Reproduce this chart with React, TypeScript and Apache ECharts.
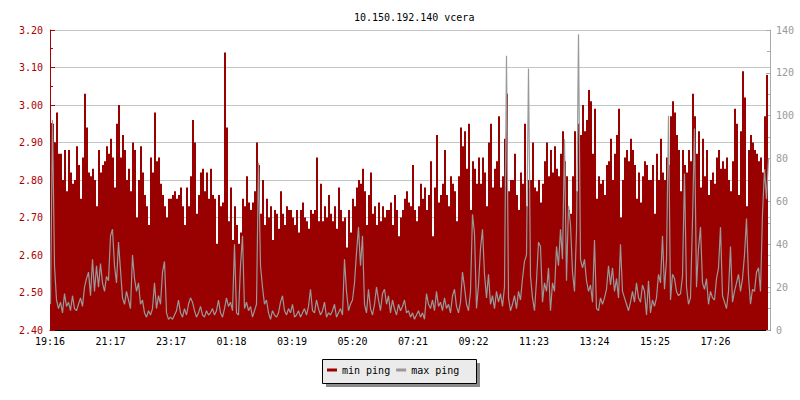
import React, { useEffect, useRef } from "react";
import * as echarts from "echarts";

const titleText = "10.150.192.140 vcera";
const tickLabels = ["19:16", "21:17", "23:17", "01:18", "03:19", "05:20", "07:21", "09:22", "11:23", "13:24", "15:25", "17:26"];
const tickStepMinutes = 121;
const sampleMinutes = 4;
const spanMinutes = 1440;

// min ping (ms), one sample every 4 minutes starting 19:16
const minPing = [
  2.95, 2.95, 2.90, 2.98, 2.87, 2.87, 2.80, 2.88, 2.77, 2.88,
  2.82, 2.79, 2.80, 2.89, 2.84, 2.75, 2.86, 3.03, 2.94, 2.82,
  2.81, 2.83, 2.80, 2.73, 2.88, 2.82, 2.84, 2.85, 2.89, 2.87,
  2.91, 2.86, 2.78, 2.95, 3.00, 2.86, 2.92, 2.88, 2.80, 2.83,
  2.77, 2.90, 2.88, 2.70, 2.80, 2.89, 2.82, 2.76, 2.73, 2.68,
  2.86, 2.82, 2.98, 2.85, 2.86, 2.79, 2.76, 2.73, 2.70, 2.75,

  2.75, 2.76, 2.77, 2.75, 2.76, 2.78, 2.73, 2.68, 2.78, 2.73,
  2.81, 2.96, 2.90, 2.71, 2.76, 2.82, 2.83, 2.77, 2.82, 2.75,
  2.83, 2.76, 2.75, 2.63, 2.76, 2.73, 2.74, 3.14, 2.94, 2.69,
  2.78, 2.64, 2.73, 2.68, 2.63, 2.66, 2.75, 2.73, 2.81, 2.74,
  2.72, 2.74, 2.77, 2.90, 2.84, 2.71, 2.80, 2.68, 2.75, 2.70,
  2.73, 2.64, 2.72, 2.71, 2.67, 2.77, 2.71, 2.68, 2.73, 2.72,

  2.72, 2.70, 2.68, 2.72, 2.66, 2.72, 2.74, 2.70, 2.69, 2.67,
  2.72, 2.71, 2.72, 2.86, 2.69, 2.79, 2.69, 2.73, 2.70, 2.76,
  2.71, 2.69, 2.73, 2.67, 2.78, 2.72, 2.69, 2.70, 2.62, 2.72,
  2.66, 2.75, 2.73, 2.78, 2.80, 2.79, 2.83, 2.77, 2.68, 2.76,
  2.82, 2.71, 2.73, 2.68, 2.74, 2.69, 2.73, 2.70, 2.72, 2.72,
  2.74, 2.68, 2.76, 2.72, 2.65, 2.70, 2.72, 2.75, 2.77, 2.74,

  2.73, 2.84, 2.72, 2.69, 2.73, 2.79, 2.75, 2.78, 2.72, 2.76,
  2.85, 2.65, 2.78, 2.92, 2.74, 2.76, 2.79, 2.88, 2.76, 2.73,
  2.81, 2.79, 2.77, 2.69, 2.81, 2.94, 2.89, 2.93, 2.83, 2.95,
  2.72, 2.85, 2.83, 2.79, 2.86, 2.79, 2.86, 2.82, 2.73, 2.90,
  2.95, 2.78, 2.83, 2.85, 2.97, 2.78, 2.81, 2.91, 3.03, 2.77,
  2.80, 2.80, 2.87, 2.76, 2.72, 2.82, 2.79, 2.95, 2.73, 2.80,

  2.80, 2.90, 2.78, 2.77, 2.80, 2.74, 2.79, 2.85, 2.90, 2.81,
  2.88, 2.82, 2.89, 2.83, 2.81, 2.87, 2.93, 2.85, 2.81, 2.72,
  2.71, 2.81, 2.93, 2.77, 2.95, 2.92, 3.00, 2.93, 2.96, 3.04,
  3.01, 2.87, 2.99, 2.75, 2.81, 2.79, 2.80, 2.76, 2.84, 2.85,
  2.91, 2.80, 2.87, 2.92, 2.99, 2.70, 2.80, 2.86, 2.88, 2.85,
  2.91, 2.88, 2.84, 2.75, 2.82, 2.74, 2.81, 2.85, 2.84, 2.80,

  2.80, 2.84, 2.71, 2.87, 2.80, 2.91, 2.82, 2.80, 2.86, 2.84,
  2.97, 3.01, 2.98, 2.92, 2.88, 2.77, 2.88, 2.84, 2.82, 2.88,
  2.85, 3.03, 2.97, 2.87, 2.93, 2.78, 2.91, 2.81, 2.88, 2.76,
  2.80, 2.82, 2.79, 2.86, 2.88, 2.83, 2.85, 2.83, 2.86, 2.80,
  2.77, 2.85, 2.99, 2.95, 2.76, 2.93, 3.09, 3.02, 2.73, 2.88,
  2.92, 2.90, 2.88, 2.87, 2.85, 2.86, 2.82, 2.97, 3.08, 2.77,
];

// max ping (ms), same sampling
const maxPing = [
  12, 98, 30, 14, 10, 13, 8, 17, 11, 13,
  9, 16, 10, 9, 12, 15, 11, 20, 24, 27,
  16, 33, 18, 30, 20, 31, 22, 18, 25, 23,
  44, 47, 30, 22, 41, 28, 15, 12, 18, 14,
  10, 35, 24, 18, 22, 12, 14, 8, 6, 9,
  7, 10, 22, 10, 16, 12, 27, 32, 8, 5,

  6, 5, 7, 9, 14, 8, 6, 10, 7, 12,
  15, 13, 9, 6, 8, 11, 7, 6, 9, 7,
  8, 10, 7, 9, 14, 8, 6, 10, 15, 11,
  13, 9, 40, 8, 7, 30, 44, 10, 13, 9,
  11, 6, 9, 12, 78, 30, 20, 12, 14, 8,
  5, 9, 7, 6, 8, 13, 16, 9, 7, 10,

  8, 12, 6, 7, 9, 6, 8, 10, 7, 11,
  19, 9, 8, 14, 10, 7, 9, 13, 6, 8,
  7, 9, 12, 6, 8, 10, 7, 33, 18, 9,
  12, 14, 22, 36, 48, 30, 44, 12, 8, 19,
  10, 7, 12, 20, 14, 9, 17, 19, 12, 16,
  8, 14, 10, 7, 12, 9, 11, 14, 8, 9,

  6, 8, 5, 7, 9, 6, 8, 5, 17, 12,
  10, 14, 9, 18, 11, 13, 9, 15, 10, 12,
  8, 16, 19, 11, 8, 13, 27, 20, 12, 9,
  18, 54, 45, 10, 21, 38, 47, 26, 15, 26,
  12, 16, 10, 18, 13, 17, 11, 20, 128, 15,
  9, 12, 16, 10, 18, 14, 24, 32, 35, 122,

  25, 15, 9, 23, 41, 39, 13, 22, 18, 29,
  9, 22, 18, 39, 30, 47, 33, 89, 23, 58,
  49, 27, 18, 46, 138, 33, 29, 33, 23, 18,
  21, 13, 42, 10, 9, 15, 12, 15, 19, 30,
  21, 29, 18, 24, 15, 40, 18, 15, 12, 9,
  13, 18, 13, 22, 15, 13, 21, 18, 7, 23,

  8, 14, 11, 15, 26, 22, 44, 19, 33, 100,
  14, 26, 24, 18, 16, 17, 25, 73, 20, 12,
  15, 51, 94, 20, 38, 48, 22, 19, 24, 12,
  18, 15, 14, 24, 29, 48, 16, 13, 10, 18,
  39, 13, 18, 22, 26, 18, 24, 35, 52, 25,
  12, 19, 18, 27, 29, 18, 54, 75, 61, 80,
];

const MONO = "'DejaVu Sans Mono', monospace";

export default function App() {
  const ref = useRef<HTMLDivElement>(null);

  useEffect(() => {
    if (!ref.current) return;
    const chart = echarts.init(ref.current, null, { renderer: "svg" });

    const minData = minPing.map((v, i) => [i * sampleMinutes, v]);
    const maxData = maxPing.map((v, i) => [i * sampleMinutes + sampleMinutes / 4, v]);

    chart.setOption({
      animation: false,
      backgroundColor: "#ffffff",
      title: {
        text: titleText,
        left: 349,
        top: 7,
        textStyle: { fontFamily: MONO, fontSize: 10, fontWeight: "normal", color: "#000" },
      },
      graphic: [
        { type: "rect", z: 1, shape: { x: 326, y: 363, width: 154, height: 24 }, style: { fill: "#8a8a8a" } },
        {
          type: "rect",
          z: 2,
          shape: { x: 322.5, y: 359.5, width: 154, height: 24 },
          style: { fill: "#ebebeb", stroke: "#000", lineWidth: 1 },
        },
      ],
      legend: {
        z: 10,
        left: 327,
        top: 365,
        icon: "rect",
        itemWidth: 10,
        itemHeight: 3,
        itemGap: 6,
        padding: 0,
        textStyle: { fontFamily: MONO, fontSize: 10, color: "#000" },
        data: ["min ping", "max ping"],
      },
      grid: { left: 50, right: 30, top: 30, bottom: 70, containLabel: false },
      xAxis: {
        type: "value",
        min: 0,
        max: spanMinutes,
        interval: tickStepMinutes,
        axisLine: { show: true, onZero: false, lineStyle: { color: "#000", width: 1 } },
        axisTick: { show: true, inside: true, length: 5, lineStyle: { color: "#000" } },
        axisLabel: {
          fontFamily: MONO,
          fontSize: 10,
          color: "#000",
          margin: 6,
          showMaxLabel: false,
          formatter: (v: number) => {
            const k = Math.round(v / tickStepMinutes);
            return Math.abs(v - k * tickStepMinutes) < 0.01 && k < tickLabels.length ? tickLabels[k] : "";
          },
        },
        splitLine: { show: false },
      },
      yAxis: [
        {
          type: "value",
          position: "left",
          min: 2.4,
          max: 3.2,
          interval: 0.1,
          axisLine: { show: true, onZero: false, lineStyle: { color: "#aa0000", width: 1 } },
          axisTick: { show: true, inside: true, length: 5, lineStyle: { color: "#aa0000" } },
          minorTick: { show: true, splitNumber: 2, length: 3, lineStyle: { color: "#aa0000" } },
          axisLabel: {
            fontFamily: MONO,
            fontSize: 10,
            color: "#aa0000",
            margin: 7,
            formatter: (v: number) => v.toFixed(2),
          },
          splitLine: { show: true, lineStyle: { color: "#c4c4c4", width: 1 } },
        },
        {
          type: "value",
          position: "right",
          min: 0,
          max: 140,
          interval: 20,
          axisLine: { show: true, onZero: false, lineStyle: { color: "#aaaaaa", width: 1 } },
          axisTick: { show: true, inside: true, length: 4, lineStyle: { color: "#aaaaaa" } },
          minorTick: { show: true, splitNumber: 2, length: 3, lineStyle: { color: "#aaaaaa" } },
          axisLabel: { fontFamily: MONO, fontSize: 10, color: "#999999", margin: 6 },
          splitLine: { show: false },
        },
      ],
      series: [
        {
          name: "min ping",
          type: "line",
          yAxisIndex: 0,
          step: "end",
          data: minData,
          symbol: "none",
          color: "#990000",
          lineStyle: { width: 0, color: "#990000" },
          areaStyle: { color: "#990000", opacity: 1, origin: "start" },
          z: 2,
        },
        {
          name: "max ping",
          type: "line",
          yAxisIndex: 1,
          data: maxData,
          symbol: "none",
          color: "#999999",
          lineStyle: { width: 1.2, color: "#999999" },
          z: 3,
        },
      ],
    });

    return () => chart.dispose();
  }, []);

  return (
    <div
      ref={ref}
      style={{ position: "fixed", left: 0, top: 0, width: 800, height: 400, background: "#fff" }}
    />
  );
}
